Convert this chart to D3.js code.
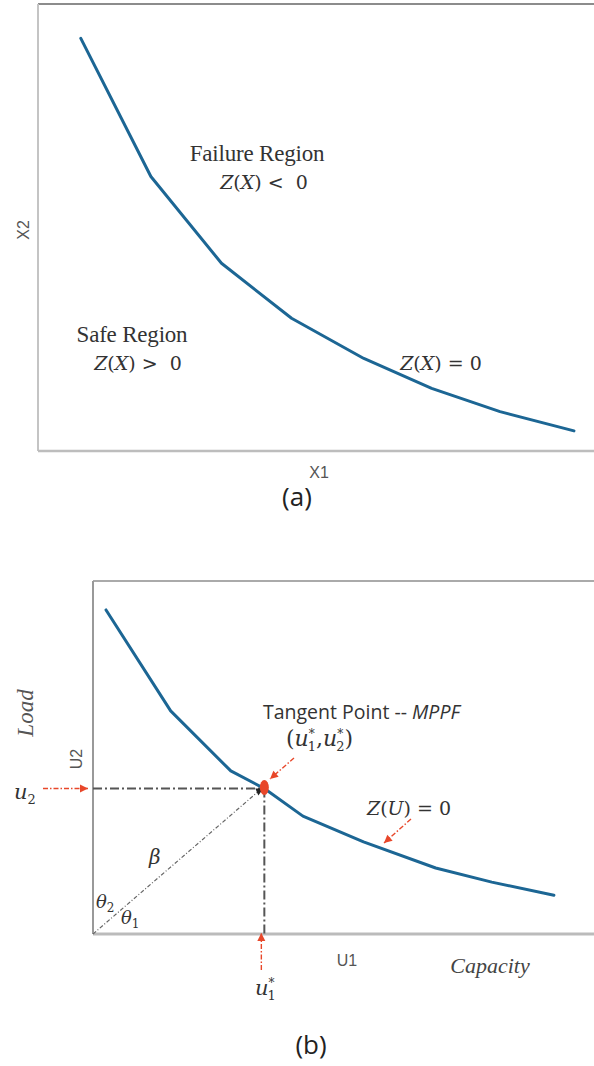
<!DOCTYPE html>
<html><head><meta charset="utf-8">
<script src="https://cdn.jsdelivr.net/npm/d3@7"></script>
<style>html,body{margin:0;padding:0;background:#fff;}svg{display:block;}</style>
</head><body>
<svg id="c" width="594" height="1066"></svg>
<script>
// Panel (a): limit-state curve Z(X)=0 in X space (abstract units 0..10)
const curveAX = [0.77, 2.03, 3.30, 4.56, 5.86, 7.08, 8.31, 9.64];
const curveAY = [9.23, 6.14, 4.20, 2.97, 2.07, 1.40, 0.88, 0.45];
// Panel (b): limit-state curve Z(U)=0 in standard normal U space
const curveBX = [0.26, 1.55, 2.75, 3.42, 4.19, 5.40, 6.84, 7.96, 9.20];
const curveBY = [9.18, 6.32, 4.62, 4.12, 3.34, 2.61, 1.87, 1.47, 1.10];
// Tangent point (MPPF)
const tangentPt = [3.42, 4.12];
const axisLabelsA = ["X1", "X2"];
const axisLabelsB = ["U1", "U2"];

const svg = d3.select("#c");
const blue = "#1c6694";
const red = "#e8472a";
const grey = "#555";
const serif = "Liberation Serif, Times New Roman, serif";
const mathF = "DejaVu Serif, serif";
const sans = "Open Sans, sans-serif";
const arial = "Liberation Sans, Arial, sans-serif";

// ---------- Panel (a) ----------
const xa = d3.scaleLinear().domain([0, 10]).range([38, 594]);
const ya = d3.scaleLinear().domain([0, 10]).range([451, 4]);
const ga = svg.append("g");
ga.append("line").attr("x1", xa(0)).attr("x2", 594).attr("y1", ya(10)).attr("y2", ya(10)).attr("stroke", "#666").attr("stroke-width", 1.5);
ga.append("line").attr("x1", xa(0)).attr("x2", xa(0)).attr("y1", ya(10)).attr("y2", ya(0)).attr("stroke", "#c4c4c4").attr("stroke-width", 2);
ga.append("line").attr("x1", xa(0)).attr("x2", 594).attr("y1", ya(0)).attr("y2", ya(0)).attr("stroke", "#bdbdbd").attr("stroke-width", 2.5);
const lineA = d3.line().x((d, i) => xa(curveAX[i])).y((d, i) => ya(curveAY[i]));
ga.append("path").attr("d", lineA(curveAX)).attr("fill", "none").attr("stroke", blue).attr("stroke-width", 3).attr("stroke-linejoin", "round").attr("stroke-linecap", "round");

ga.append("text").attr("x", 319).attr("y", 478).attr("text-anchor", "middle").attr("font-family", arial).attr("font-size", 16).attr("fill", "#555").text(axisLabelsA[0]);
ga.append("text").attr("transform", "translate(29,230) rotate(-90)").attr("text-anchor", "middle").attr("font-family", arial).attr("font-size", 16).attr("fill", "#555").text(axisLabelsA[1]);

ga.append("text").attr("x", 257).attr("y", 161).attr("text-anchor", "middle").attr("font-family", serif).attr("font-size", 23).attr("fill", "#333").attr("letter-spacing", -0.2).text("Failure Region");
function zText(g, x, y, parts, anchor) {
  const t = g.append("text").attr("x", x).attr("y", y).attr("text-anchor", anchor || "start").attr("font-family", mathF).attr("font-size", 19).attr("fill", "#333").attr("xml:space", "preserve").style("white-space", "pre");
  parts.forEach(p => t.append("tspan").attr("font-style", p[1] ? "italic" : "normal").text(p[0]));
  return t;
}
zText(ga, 264, 189, [["Z", 1], ["(", 0], ["X", 1], [") <  0", 0]], "middle");
ga.append("text").attr("x", 132).attr("y", 342).attr("text-anchor", "middle").attr("font-family", serif).attr("font-size", 23).attr("fill", "#333").attr("letter-spacing", -0.2).text("Safe Region");
zText(ga, 138, 370, [["Z", 1], ["(", 0], ["X", 1], [") >  0", 0]], "middle");
zText(ga, 441, 370, [["Z", 1], ["(", 0], ["X", 1], [")", 0], [" = 0", 0]], "middle");

svg.append("text").attr("x", 297).attr("y", 506).attr("text-anchor", "middle").attr("font-family", sans).attr("font-size", 26).attr("fill", "#222").text("(a)");

// ---------- Panel (b) ----------
const xb = d3.scaleLinear().domain([0, 10]).range([93, 594]);
const yb = d3.scaleLinear().domain([0, 10]).range([934, 581]);
const gb = svg.append("g");
gb.append("line").attr("x1", xb(0)).attr("x2", 594).attr("y1", yb(10)).attr("y2", yb(10)).attr("stroke", "#aaa").attr("stroke-width", 2);
gb.append("line").attr("x1", xb(0)).attr("x2", xb(0)).attr("y1", yb(10)).attr("y2", yb(0)).attr("stroke", "#999").attr("stroke-width", 2);
gb.append("line").attr("x1", xb(0)).attr("x2", 594).attr("y1", yb(0)).attr("y2", yb(0)).attr("stroke", "#bbb").attr("stroke-width", 3);

const tx = xb(tangentPt[0]), ty = yb(tangentPt[1]);
// dash-dot guides
gb.append("line").attr("x1", xb(0)).attr("x2", tx - 4).attr("y1", ty).attr("y2", ty).attr("stroke", grey).attr("stroke-width", 2).attr("stroke-dasharray", "9,3,2,3");
gb.append("line").attr("x1", tx).attr("x2", tx).attr("y1", ty).attr("y2", yb(0)).attr("stroke", grey).attr("stroke-width", 2).attr("stroke-dasharray", "9,3,2,3");
// beta line
gb.append("line").attr("x1", xb(0)).attr("y1", yb(0)).attr("x2", tx - 5).attr("y2", ty + 2).attr("stroke", "#666").attr("stroke-width", 1.2).attr("stroke-dasharray", "4,2,1,2");
gb.append("path").attr("d", `M${tx - 1},${ty} l-8,0 l3,7 z`).attr("fill", "#222");

const lineB = d3.line().x((d, i) => xb(curveBX[i])).y((d, i) => yb(curveBY[i]));
gb.append("path").attr("d", lineB(curveBX)).attr("fill", "none").attr("stroke", blue).attr("stroke-width", 3).attr("stroke-linejoin", "round").attr("stroke-linecap", "round");
gb.append("ellipse").attr("cx", tx).attr("cy", ty - 1).attr("rx", 4.5).attr("ry", 7.5).attr("fill", red);

// red arrows
function redArrow(x1, y1, x2, y2) {
  gb.append("line").attr("x1", x1).attr("y1", y1).attr("x2", x2).attr("y2", y2).attr("stroke", red).attr("stroke-width", 1.4).attr("stroke-dasharray", "5,2,1.5,2");
  const a = Math.atan2(y2 - y1, x2 - x1), L = 8, W = 4;
  const bx = x2 - L * Math.cos(a), by = y2 - L * Math.sin(a);
  const px = -Math.sin(a) * W, py = Math.cos(a) * W;
  gb.append("path").attr("d", `M${x2},${y2} L${bx + px},${by + py} L${bx - px},${by - py} Z`).attr("fill", red);
}
redArrow(43, ty, 88, ty);
redArrow(tx - 3, 970, tx - 3, yb(0) - 1);
redArrow(294, 758, 270, 779);
redArrow(411, 819, 384, 843);

gb.append("text").attr("x", 347).attr("y", 966).attr("text-anchor", "middle").attr("font-family", arial).attr("font-size", 16).attr("fill", "#555").text(axisLabelsB[0]);
gb.append("text").attr("transform", "translate(82,759) rotate(-90)").attr("text-anchor", "middle").attr("font-family", arial).attr("font-size", 16).attr("fill", "#555").text(axisLabelsB[1]);
gb.append("text").attr("transform", "translate(33,713) rotate(-90)").attr("text-anchor", "middle").attr("font-family", serif).attr("font-style", "italic").attr("font-size", 23).attr("fill", "#555").text("Load");
gb.append("text").attr("x", 490).attr("y", 973).attr("text-anchor", "middle").attr("font-family", serif).attr("font-style", "italic").attr("font-size", 22).attr("fill", "#444").text("Capacity");

const tp = gb.append("text").attr("x", 263).attr("y", 719).attr("font-family", sans).attr("font-size", 19.5).attr("fill", "#333");
tp.append("tspan").text("Tangent Point -- ");
tp.append("tspan").attr("font-style", "italic").text("MPPF");

function uText(x, y, idx, star, anchor) {
  const t = gb.append("text").attr("x", x).attr("y", y).attr("font-family", mathF).attr("font-size", 21).attr("fill", "#333").attr("text-anchor", anchor || "start");
  t.append("tspan").attr("font-style", "italic").text("u");
  if (star) {
    t.append("tspan").attr("font-size", 12).attr("dy", -8).text("*");
    t.append("tspan").attr("font-size", 13).attr("dx", -7).attr("dy", 13).text(idx);
  } else {
    t.append("tspan").attr("font-size", 13).attr("dy", 5).text(idx);
  }
  return t;
}
// (u1*, u2*)
const pt = gb.append("text").attr("x", 286).attr("y", 746).attr("font-family", mathF).attr("font-size", 22).attr("fill", "#333");
pt.append("tspan").text("(");
pt.append("tspan").attr("font-style", "italic").text("u");
pt.append("tspan").attr("font-size", 12).attr("dy", -8).text("*");
pt.append("tspan").attr("font-size", 13).attr("dx", -7).attr("dy", 13).text("1");
pt.append("tspan").attr("dy", -5).text(",");
pt.append("tspan").attr("font-style", "italic").text("u");
pt.append("tspan").attr("font-size", 12).attr("dy", -8).text("*");
pt.append("tspan").attr("font-size", 13).attr("dx", -7).attr("dy", 13).text("2");
pt.append("tspan").attr("dy", -5).text(")");

uText(14, 799, "2", false);
uText(255, 995, "1", true);

zText(gb, 409, 815, [["Z", 1], ["(", 0], ["U", 1], [")", 0], [" = 0", 0]], "middle");

gb.append("text").attr("x", 149).attr("y", 864).attr("font-family", mathF).attr("font-style", "italic").attr("font-size", 20).attr("fill", "#333").text("β");
const t2 = gb.append("text").attr("x", 96).attr("y", 908).attr("font-family", mathF).attr("font-style", "italic").attr("font-size", 18).attr("fill", "#333");
t2.append("tspan").text("θ");
t2.append("tspan").attr("font-style", "normal").attr("font-size", 12).attr("dy", 4).text("2");
const t1 = gb.append("text").attr("x", 121).attr("y", 924).attr("font-family", mathF).attr("font-style", "italic").attr("font-size", 18).attr("fill", "#333");
t1.append("tspan").text("θ");
t1.append("tspan").attr("font-style", "normal").attr("font-size", 12).attr("dy", 4).text("1");

svg.append("text").attr("x", 311).attr("y", 1054).attr("text-anchor", "middle").attr("font-family", sans).attr("font-size", 26).attr("fill", "#222").text("(b)");
</script>
</body></html>
